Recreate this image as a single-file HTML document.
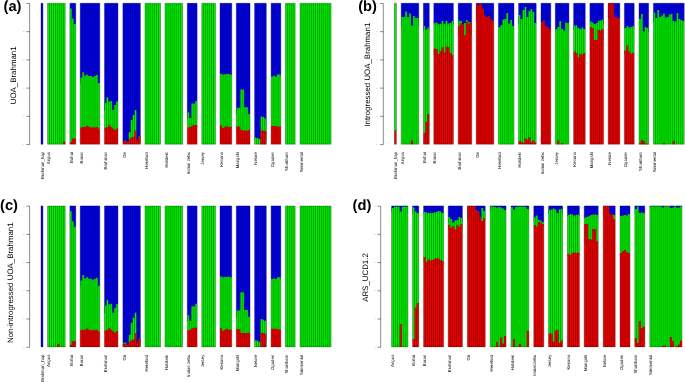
<!DOCTYPE html>
<html><head><meta charset="utf-8"><title>Admixture</title>
<style>
html,body{margin:0;padding:0;background:#fff;}
svg{display:block;font-family:"Liberation Sans",sans-serif;text-rendering:geometricPrecision;}
</style></head>
<body>
<svg width="685" height="382" viewBox="0 0 685 382">
<rect width="685" height="382" fill="#fff"/>
<path d="M26.30 3.45H29.60V144.55H26.30" fill="none" stroke="#000" stroke-opacity=".5" stroke-width=".9"/>
<path d="M26.30 31.67H29.60" stroke="#000" stroke-opacity=".5" stroke-width=".9"/>
<path d="M26.30 59.89H29.60" stroke="#000" stroke-opacity=".5" stroke-width=".9"/>
<path d="M26.30 88.11H29.60" stroke="#000" stroke-opacity=".5" stroke-width=".9"/>
<path d="M26.30 116.33H29.60" stroke="#000" stroke-opacity=".5" stroke-width=".9"/>
<text x="24.30" y="3.85" font-size="1" text-anchor="end" fill="#444">1.0</text>
<text x="24.30" y="32.07" font-size="1" text-anchor="end" fill="#444">0.8</text>
<text x="24.30" y="60.29" font-size="1" text-anchor="end" fill="#444">0.6</text>
<text x="24.30" y="88.51" font-size="1" text-anchor="end" fill="#444">0.4</text>
<text x="24.30" y="116.73" font-size="1" text-anchor="end" fill="#444">0.2</text>
<text x="24.30" y="144.95" font-size="1" text-anchor="end" fill="#444">0.0</text>
<text x="3.5" y="10.6" font-size="14.7" font-weight="bold" fill="#000">(a)</text>
<text transform="translate(15.9 75.3) rotate(-90)" font-size="7.9" text-anchor="middle" fill="#000">UOA_Brahman1</text>
<rect x="41.00" y="3.20" width="1.96" height="141.10" fill="#0000f4"/>
<path d="M41.00 3.20V144.30M42.96 3.20V144.30" stroke="#000" stroke-opacity="0.55" stroke-width="0.62" fill="none"/>
<path d="M41.00 3.20H42.96M41.00 144.20H42.96" stroke="#000" stroke-opacity=".45" stroke-width=".5" fill="none"/>
<text transform="translate(43.65 152.00) rotate(-90) scale(.1)" font-size="43" text-anchor="end" fill="#000">Brahman_hap</text>
<path d="M47.60 144.30V3.20H49.55V3.20H51.51V3.20H53.47V3.20H55.42V3.20H57.38V3.20H59.33V3.20H61.29V3.20H63.24V3.20H65.19V144.30Z" fill="#00f400"/>
<path d="M47.60 144.30V144.30H49.55V144.30H51.51V144.30H53.47V144.30H55.42V144.30H57.38V144.30H59.33V144.30H61.29V144.30H63.24V141.40H65.19V144.30Z" fill="#f40000"/>
<path d="M47.60 3.20V144.30M49.55 3.20V144.30M51.51 3.20V144.30M53.47 3.20V144.30M55.42 3.20V144.30M57.38 3.20V144.30M59.33 3.20V144.30M61.29 3.20V144.30M63.24 3.20V144.30M65.19 3.20V144.30" stroke="#000" stroke-opacity="0.55" stroke-width="0.62" fill="none"/>
<path d="M47.60 3.20H65.19M47.60 144.20H65.19" stroke="#000" stroke-opacity=".45" stroke-width=".5" fill="none"/>
<text transform="translate(50.25 152.00) rotate(-90) scale(.1)" font-size="43" text-anchor="end" fill="#000">Angus</text>
<rect x="69.90" y="3.20" width="5.88" height="21.40" fill="#0000f4"/>
<path d="M69.90 142.60V8.60H71.86V18.60H73.82V24.00H75.78V142.60Z" fill="#00f400"/>
<path d="M69.90 144.30V142.00H71.86V138.40H73.82V138.40H75.78V144.30Z" fill="#f40000"/>
<path d="M69.90 3.20V144.30M71.86 3.20V144.30M73.82 3.20V144.30M75.78 3.20V144.30" stroke="#000" stroke-opacity="0.55" stroke-width="0.62" fill="none"/>
<path d="M69.90 3.20H75.78M69.90 144.20H75.78" stroke="#000" stroke-opacity=".45" stroke-width=".5" fill="none"/>
<text transform="translate(72.55 152.00) rotate(-90) scale(.1)" font-size="43" text-anchor="end" fill="#000">Bohai</text>
<rect x="80.20" y="3.20" width="19.60" height="80.40" fill="#0000f4"/>
<path d="M80.20 129.10V77.80H82.16V72.20H84.12V75.50H86.08V74.50H88.04V76.00H90.00V76.00H91.96V77.00H93.92V76.00H95.88V75.00H97.84V83.00H99.80V129.10Z" fill="#00f400"/>
<path d="M80.20 144.30V127.50H82.16V127.00H84.12V127.00H86.08V125.80H88.04V126.80H90.00V127.50H91.96V127.20H93.92V127.50H95.88V127.00H97.84V128.50H99.80V144.30Z" fill="#f40000"/>
<path d="M80.20 3.20V144.30M82.16 3.20V144.30M84.12 3.20V144.30M86.08 3.20V144.30M88.04 3.20V144.30M90.00 3.20V144.30M91.96 3.20V144.30M93.92 3.20V144.30M95.88 3.20V144.30M97.84 3.20V144.30M99.80 3.20V144.30" stroke="#000" stroke-opacity="0.55" stroke-width="0.62" fill="none"/>
<path d="M80.20 3.20H99.80M80.20 144.20H99.80" stroke="#000" stroke-opacity=".45" stroke-width=".5" fill="none"/>
<text transform="translate(82.85 152.00) rotate(-90) scale(.1)" font-size="43" text-anchor="end" fill="#000">Boran</text>
<rect x="104.50" y="3.20" width="13.47" height="107.40" fill="#0000f4"/>
<path d="M104.50 130.60V103.00H106.42V97.20H108.35V101.50H110.28V101.00H112.20V110.00H114.12V105.00H116.05V101.20H117.97V130.60Z" fill="#00f400"/>
<path d="M104.50 144.30V127.80H106.42V127.00H108.35V125.20H110.28V127.00H112.20V128.50H114.12V130.00H116.05V128.50H117.97V144.30Z" fill="#f40000"/>
<path d="M104.50 3.20V144.30M106.42 3.20V144.30M108.35 3.20V144.30M110.28 3.20V144.30M112.20 3.20V144.30M114.12 3.20V144.30M116.05 3.20V144.30M117.97 3.20V144.30" stroke="#000" stroke-opacity="0.55" stroke-width="0.62" fill="none"/>
<path d="M104.50 3.20H117.97M104.50 144.20H117.97" stroke="#000" stroke-opacity=".45" stroke-width=".5" fill="none"/>
<text transform="translate(107.15 152.00) rotate(-90) scale(.1)" font-size="43" text-anchor="end" fill="#000">Brahman</text>
<rect x="122.90" y="3.20" width="17.50" height="139.90" fill="#0000f4"/>
<path d="M122.90 143.10V141.00H124.84V140.80H126.79V142.50H128.74V132.00H130.68V120.00H132.62V115.00H134.57V110.00H136.52V140.00H138.46V136.00H140.41V143.10Z" fill="#00f400"/>
<path d="M122.90 144.30V141.00H124.84V140.80H126.79V142.50H128.74V139.00H130.68V137.50H132.62V136.80H134.57V130.50H136.52V140.00H138.46V136.00H140.41V144.30Z" fill="#f40000"/>
<path d="M122.90 3.20V144.30M124.84 3.20V144.30M126.79 3.20V144.30M128.74 3.20V144.30M130.68 3.20V144.30M132.62 3.20V144.30M134.57 3.20V144.30M136.52 3.20V144.30M138.46 3.20V144.30M140.41 3.20V144.30" stroke="#000" stroke-opacity="0.55" stroke-width="0.62" fill="none"/>
<path d="M122.90 3.20H140.41M122.90 144.20H140.41" stroke="#000" stroke-opacity=".45" stroke-width=".5" fill="none"/>
<text transform="translate(125.55 152.00) rotate(-90) scale(.1)" font-size="43" text-anchor="end" fill="#000">Gir</text>
<path d="M145.00 144.30V3.20H146.94V3.20H148.88V3.20H150.82V3.20H152.76V3.20H154.70V3.20H156.64V3.20H158.58V3.20H160.52V144.30Z" fill="#00f400"/>
<path d="M145.00 3.20V144.30M146.94 3.20V144.30M148.88 3.20V144.30M150.82 3.20V144.30M152.76 3.20V144.30M154.70 3.20V144.30M156.64 3.20V144.30M158.58 3.20V144.30M160.52 3.20V144.30" stroke="#000" stroke-opacity="0.55" stroke-width="0.62" fill="none"/>
<path d="M145.00 3.20H160.52M145.00 144.20H160.52" stroke="#000" stroke-opacity=".45" stroke-width=".5" fill="none"/>
<text transform="translate(147.65 152.00) rotate(-90) scale(.1)" font-size="43" text-anchor="end" fill="#000">Hereford</text>
<path d="M165.00 144.30V3.20H166.96V3.20H168.91V3.20H170.87V3.20H172.82V3.20H174.78V3.20H176.73V3.20H178.69V3.20H180.64V3.20H182.59V144.30Z" fill="#00f400"/>
<path d="M165.00 3.20V144.30M166.96 3.20V144.30M168.91 3.20V144.30M170.87 3.20V144.30M172.82 3.20V144.30M174.78 3.20V144.30M176.73 3.20V144.30M178.69 3.20V144.30M180.64 3.20V144.30M182.59 3.20V144.30" stroke="#000" stroke-opacity="0.55" stroke-width="0.62" fill="none"/>
<path d="M165.00 3.20H182.59M165.00 144.20H182.59" stroke="#000" stroke-opacity=".45" stroke-width=".5" fill="none"/>
<text transform="translate(167.65 152.00) rotate(-90) scale(.1)" font-size="43" text-anchor="end" fill="#000">Holstein</text>
<rect x="187.30" y="3.20" width="9.80" height="115.40" fill="#0000f4"/>
<path d="M187.30 128.20V112.50H189.26V118.00H191.22V103.50H193.18V103.50H195.14V101.00H197.10V128.20Z" fill="#00f400"/>
<path d="M187.30 144.30V127.60H189.26V127.00H191.22V125.60H193.18V125.00H195.14V125.00H197.10V144.30Z" fill="#f40000"/>
<path d="M187.30 3.20V144.30M189.26 3.20V144.30M191.22 3.20V144.30M193.18 3.20V144.30M195.14 3.20V144.30M197.10 3.20V144.30" stroke="#000" stroke-opacity="0.55" stroke-width="0.62" fill="none"/>
<path d="M187.30 3.20H197.10M187.30 144.20H197.10" stroke="#000" stroke-opacity=".45" stroke-width=".5" fill="none"/>
<text transform="translate(189.95 152.00) rotate(-90) scale(.1)" font-size="43" text-anchor="end" fill="#000">Indian zebu</text>
<path d="M201.80 144.30V3.20H203.75V3.20H205.70V3.20H207.65V3.20H209.60V3.20H211.55V3.20H213.50V3.20H215.45V144.30Z" fill="#00f400"/>
<path d="M201.80 3.20V144.30M203.75 3.20V144.30M205.70 3.20V144.30M207.65 3.20V144.30M209.60 3.20V144.30M211.55 3.20V144.30M213.50 3.20V144.30M215.45 3.20V144.30" stroke="#000" stroke-opacity="0.55" stroke-width="0.62" fill="none"/>
<path d="M201.80 3.20H215.45M201.80 144.20H215.45" stroke="#000" stroke-opacity=".45" stroke-width=".5" fill="none"/>
<text transform="translate(204.45 152.00) rotate(-90) scale(.1)" font-size="43" text-anchor="end" fill="#000">Jersey</text>
<rect x="220.00" y="3.20" width="11.76" height="72.00" fill="#0000f4"/>
<path d="M220.00 128.60V73.70H221.96V74.60H223.92V74.20H225.88V74.00H227.84V74.00H229.80V74.60H231.76V128.60Z" fill="#00f400"/>
<path d="M220.00 144.30V125.60H221.96V128.00H223.92V127.00H225.88V126.00H227.84V127.00H229.80V127.00H231.76V144.30Z" fill="#f40000"/>
<path d="M220.00 3.20V144.30M221.96 3.20V144.30M223.92 3.20V144.30M225.88 3.20V144.30M227.84 3.20V144.30M229.80 3.20V144.30M231.76 3.20V144.30" stroke="#000" stroke-opacity="0.55" stroke-width="0.62" fill="none"/>
<path d="M220.00 3.20H231.76M220.00 144.20H231.76" stroke="#000" stroke-opacity=".45" stroke-width=".5" fill="none"/>
<text transform="translate(222.65 152.00) rotate(-90) scale(.1)" font-size="43" text-anchor="end" fill="#000">Kenana</text>
<rect x="236.30" y="3.20" width="13.72" height="111.40" fill="#0000f4"/>
<path d="M236.30 131.00V107.70H238.26V107.70H240.22V89.50H242.18V89.50H244.14V107.30H246.10V107.30H248.06V114.00H250.02V131.00Z" fill="#00f400"/>
<path d="M236.30 144.30V126.40H238.26V126.40H240.22V130.00H242.18V130.40H244.14V130.40H246.10V130.40H248.06V130.00H250.02V144.30Z" fill="#f40000"/>
<path d="M236.30 3.20V144.30M238.26 3.20V144.30M240.22 3.20V144.30M242.18 3.20V144.30M244.14 3.20V144.30M246.10 3.20V144.30M248.06 3.20V144.30M250.02 3.20V144.30" stroke="#000" stroke-opacity="0.55" stroke-width="0.62" fill="none"/>
<path d="M236.30 3.20H250.02M236.30 144.20H250.02" stroke="#000" stroke-opacity=".45" stroke-width=".5" fill="none"/>
<text transform="translate(238.95 152.00) rotate(-90) scale(.1)" font-size="43" text-anchor="end" fill="#000">Mangshi</text>
<rect x="254.60" y="3.20" width="11.70" height="136.40" fill="#0000f4"/>
<path d="M254.60 144.30V137.60H256.55V138.00H258.50V139.00H260.45V116.40H262.40V117.00H264.35V118.40H266.30V144.30Z" fill="#00f400"/>
<path d="M254.60 144.30V144.30H256.55V144.30H258.50V144.30H260.45V130.40H262.40V130.40H264.35V131.00H266.30V144.30Z" fill="#f40000"/>
<path d="M254.60 3.20V144.30M256.55 3.20V144.30M258.50 3.20V144.30M260.45 3.20V144.30M262.40 3.20V144.30M264.35 3.20V144.30M266.30 3.20V144.30" stroke="#000" stroke-opacity="0.55" stroke-width="0.62" fill="none"/>
<path d="M254.60 3.20H266.30M254.60 144.20H266.30" stroke="#000" stroke-opacity=".45" stroke-width=".5" fill="none"/>
<text transform="translate(257.25 152.00) rotate(-90) scale(.1)" font-size="43" text-anchor="end" fill="#000">Nelore</text>
<rect x="271.10" y="3.20" width="9.75" height="73.80" fill="#0000f4"/>
<path d="M271.10 127.10V76.40H273.05V75.70H275.00V76.40H276.95V74.60H278.90V74.60H280.85V127.10Z" fill="#00f400"/>
<path d="M271.10 144.30V126.00H273.05V126.00H275.00V126.00H276.95V126.50H278.90V126.50H280.85V144.30Z" fill="#f40000"/>
<path d="M271.10 3.20V144.30M273.05 3.20V144.30M275.00 3.20V144.30M276.95 3.20V144.30M278.90 3.20V144.30M280.85 3.20V144.30" stroke="#000" stroke-opacity="0.55" stroke-width="0.62" fill="none"/>
<path d="M271.10 3.20H280.85M271.10 144.20H280.85" stroke="#000" stroke-opacity=".45" stroke-width=".5" fill="none"/>
<text transform="translate(273.75 152.00) rotate(-90) scale(.1)" font-size="43" text-anchor="end" fill="#000">Ogaden</text>
<path d="M285.40 144.30V3.20H287.35V3.20H289.30V3.20H291.25V3.20H293.20V3.20H295.15V144.30Z" fill="#00f400"/>
<path d="M285.40 3.20V144.30M287.35 3.20V144.30M289.30 3.20V144.30M291.25 3.20V144.30M293.20 3.20V144.30M295.15 3.20V144.30" stroke="#000" stroke-opacity="0.55" stroke-width="0.62" fill="none"/>
<path d="M285.40 3.20H295.15M285.40 144.20H295.15" stroke="#000" stroke-opacity=".45" stroke-width=".5" fill="none"/>
<text transform="translate(288.05 152.00) rotate(-90) scale(.1)" font-size="43" text-anchor="end" fill="#000">Shorthorn</text>
<path d="M300.00 144.30V3.20H301.94V3.20H303.88V3.20H305.82V3.20H307.76V3.20H309.70V3.20H311.64V3.20H313.58V3.20H315.52V3.20H317.46V3.20H319.40V3.20H321.34V3.20H323.28V3.20H325.22V3.20H327.16V3.20H329.10V3.20H331.04V144.30Z" fill="#00f400"/>
<path d="M300.00 3.20V144.30M301.94 3.20V144.30M303.88 3.20V144.30M305.82 3.20V144.30M307.76 3.20V144.30M309.70 3.20V144.30M311.64 3.20V144.30M313.58 3.20V144.30M315.52 3.20V144.30M317.46 3.20V144.30M319.40 3.20V144.30M321.34 3.20V144.30M323.28 3.20V144.30M325.22 3.20V144.30M327.16 3.20V144.30M329.10 3.20V144.30M331.04 3.20V144.30" stroke="#000" stroke-opacity="0.55" stroke-width="0.62" fill="none"/>
<path d="M300.00 3.20H331.04M300.00 144.20H331.04" stroke="#000" stroke-opacity=".45" stroke-width=".5" fill="none"/>
<text transform="translate(302.65 152.00) rotate(-90) scale(.1)" font-size="43" text-anchor="end" fill="#000">Simmental</text>
<path d="M380.00 3.45H383.30V144.55H380.00" fill="none" stroke="#000" stroke-opacity=".5" stroke-width=".9"/>
<path d="M380.00 31.67H383.30" stroke="#000" stroke-opacity=".5" stroke-width=".9"/>
<path d="M380.00 59.89H383.30" stroke="#000" stroke-opacity=".5" stroke-width=".9"/>
<path d="M380.00 88.11H383.30" stroke="#000" stroke-opacity=".5" stroke-width=".9"/>
<path d="M380.00 116.33H383.30" stroke="#000" stroke-opacity=".5" stroke-width=".9"/>
<text x="378.00" y="3.85" font-size="1" text-anchor="end" fill="#444">1.0</text>
<text x="378.00" y="32.07" font-size="1" text-anchor="end" fill="#444">0.8</text>
<text x="378.00" y="60.29" font-size="1" text-anchor="end" fill="#444">0.6</text>
<text x="378.00" y="88.51" font-size="1" text-anchor="end" fill="#444">0.4</text>
<text x="378.00" y="116.73" font-size="1" text-anchor="end" fill="#444">0.2</text>
<text x="378.00" y="144.95" font-size="1" text-anchor="end" fill="#444">0.0</text>
<text x="358.2" y="10.6" font-size="14.7" font-weight="bold" fill="#000">(b)</text>
<text transform="translate(370.0 74.7) rotate(-90)" font-size="7.9" text-anchor="middle" fill="#000">Introgressed UOA_Brahman1</text>
<path d="M394.40 131.00V3.20H396.36V131.00Z" fill="#00f400"/>
<path d="M394.40 144.30V130.40H396.36V144.30Z" fill="#f40000"/>
<path d="M394.40 3.20V144.30M396.36 3.20V144.30" stroke="#000" stroke-opacity="0.55" stroke-width="0.62" fill="none"/>
<path d="M394.40 3.20H396.36M394.40 144.20H396.36" stroke="#000" stroke-opacity=".45" stroke-width=".5" fill="none"/>
<text transform="translate(397.05 152.00) rotate(-90) scale(.1)" font-size="43" text-anchor="end" fill="#000">Brahman_hap</text>
<rect x="401.20" y="3.20" width="17.59" height="23.00" fill="#0000f4"/>
<path d="M401.20 144.30V17.00H403.15V17.00H405.11V11.60H407.06V17.00H409.02V13.60H410.97V25.60H412.93V16.00H414.88V18.00H416.84V18.00H418.79V144.30Z" fill="#00f400"/>
<path d="M401.20 144.30V144.30H403.15V144.30H405.11V144.30H407.06V144.30H409.02V144.30H410.97V140.40H412.93V144.30H414.88V144.30H416.84V144.30H418.79V144.30Z" fill="#f40000"/>
<path d="M401.20 3.20V144.30M403.15 3.20V144.30M405.11 3.20V144.30M407.06 3.20V144.30M409.02 3.20V144.30M410.97 3.20V144.30M412.93 3.20V144.30M414.88 3.20V144.30M416.84 3.20V144.30M418.79 3.20V144.30" stroke="#000" stroke-opacity="0.55" stroke-width="0.62" fill="none"/>
<path d="M401.20 3.20H418.79M401.20 144.20H418.79" stroke="#000" stroke-opacity=".45" stroke-width=".5" fill="none"/>
<text transform="translate(403.85 152.00) rotate(-90) scale(.1)" font-size="43" text-anchor="end" fill="#000">Angus</text>
<rect x="423.40" y="3.20" width="5.88" height="27.00" fill="#0000f4"/>
<path d="M423.40 133.60V26.00H425.36V29.60H427.32V27.60H429.28V133.60Z" fill="#00f400"/>
<path d="M423.40 144.30V133.00H425.36V122.00H427.32V114.00H429.28V144.30Z" fill="#f40000"/>
<path d="M423.40 3.20V144.30M425.36 3.20V144.30M427.32 3.20V144.30M429.28 3.20V144.30" stroke="#000" stroke-opacity="0.55" stroke-width="0.62" fill="none"/>
<path d="M423.40 3.20H429.28M423.40 144.20H429.28" stroke="#000" stroke-opacity=".45" stroke-width=".5" fill="none"/>
<text transform="translate(426.05 152.00) rotate(-90) scale(.1)" font-size="43" text-anchor="end" fill="#000">Bohai</text>
<rect x="433.80" y="3.20" width="19.60" height="21.60" fill="#0000f4"/>
<path d="M433.80 55.60V23.00H435.76V22.40H437.72V24.20H439.68V23.70H441.64V21.00H443.60V23.80H445.56V20.70H447.52V23.40H449.48V23.00H451.44V21.00H453.40V55.60Z" fill="#00f400"/>
<path d="M433.80 144.30V48.60H435.76V49.00H437.72V54.00H439.68V51.00H441.64V47.60H443.60V52.40H445.56V46.40H447.52V47.00H449.48V53.00H451.44V55.00H453.40V144.30Z" fill="#f40000"/>
<path d="M433.80 3.20V144.30M435.76 3.20V144.30M437.72 3.20V144.30M439.68 3.20V144.30M441.64 3.20V144.30M443.60 3.20V144.30M445.56 3.20V144.30M447.52 3.20V144.30M449.48 3.20V144.30M451.44 3.20V144.30M453.40 3.20V144.30" stroke="#000" stroke-opacity="0.55" stroke-width="0.62" fill="none"/>
<path d="M433.80 3.20H453.40M433.80 144.20H453.40" stroke="#000" stroke-opacity=".45" stroke-width=".5" fill="none"/>
<text transform="translate(436.45 152.00) rotate(-90) scale(.1)" font-size="43" text-anchor="end" fill="#000">Boran</text>
<rect x="458.20" y="3.20" width="13.51" height="21.90" fill="#0000f4"/>
<path d="M458.20 35.90V20.40H460.13V20.90H462.06V24.50H463.99V23.10H465.92V19.90H467.85V21.90H469.78V22.20H471.71V35.90Z" fill="#00f400"/>
<path d="M458.20 144.30V25.70H460.13V23.20H462.06V24.50H463.99V35.30H465.92V21.70H467.85V23.40H469.78V22.20H471.71V144.30Z" fill="#f40000"/>
<path d="M458.20 3.20V144.30M460.13 3.20V144.30M462.06 3.20V144.30M463.99 3.20V144.30M465.92 3.20V144.30M467.85 3.20V144.30M469.78 3.20V144.30M471.71 3.20V144.30" stroke="#000" stroke-opacity="0.55" stroke-width="0.62" fill="none"/>
<path d="M458.20 3.20H471.71M458.20 144.20H471.71" stroke="#000" stroke-opacity=".45" stroke-width=".5" fill="none"/>
<text transform="translate(460.85 152.00) rotate(-90) scale(.1)" font-size="43" text-anchor="end" fill="#000">Brahman</text>
<rect x="476.20" y="3.20" width="17.59" height="18.00" fill="#0000f4"/>
<path d="M476.20 144.30V5.00H478.15V4.40H480.11V3.60H482.06V8.40H484.02V15.60H485.97V17.00H487.93V16.00H489.88V19.00H491.84V20.60H493.79V144.30Z" fill="#f40000"/>
<path d="M476.20 3.20V144.30M478.15 3.20V144.30M480.11 3.20V144.30M482.06 3.20V144.30M484.02 3.20V144.30M485.97 3.20V144.30M487.93 3.20V144.30M489.88 3.20V144.30M491.84 3.20V144.30M493.79 3.20V144.30" stroke="#000" stroke-opacity="0.55" stroke-width="0.62" fill="none"/>
<path d="M476.20 3.20H493.79M476.20 144.20H493.79" stroke="#000" stroke-opacity=".45" stroke-width=".5" fill="none"/>
<text transform="translate(478.85 152.00) rotate(-90) scale(.1)" font-size="43" text-anchor="end" fill="#000">Gir</text>
<rect x="498.40" y="3.20" width="15.60" height="24.40" fill="#0000f4"/>
<path d="M498.40 144.30V27.00H500.35V25.00H502.30V19.60H504.25V19.00H506.20V13.00H508.15V23.60H510.10V20.00H512.05V26.00H514.00V144.30Z" fill="#00f400"/>
<path d="M498.40 3.20V144.30M500.35 3.20V144.30M502.30 3.20V144.30M504.25 3.20V144.30M506.20 3.20V144.30M508.15 3.20V144.30M510.10 3.20V144.30M512.05 3.20V144.30M514.00 3.20V144.30" stroke="#000" stroke-opacity="0.55" stroke-width="0.62" fill="none"/>
<path d="M498.40 3.20H514.00M498.40 144.20H514.00" stroke="#000" stroke-opacity=".45" stroke-width=".5" fill="none"/>
<text transform="translate(501.05 152.00) rotate(-90) scale(.1)" font-size="43" text-anchor="end" fill="#000">Hereford</text>
<rect x="518.60" y="3.20" width="17.59" height="20.40" fill="#0000f4"/>
<path d="M518.60 143.60V15.00H520.56V19.00H522.51V10.00H524.47V7.00H526.42V17.00H528.38V11.00H530.33V9.00H532.28V12.00H534.24V23.00H536.20V143.60Z" fill="#00f400"/>
<path d="M518.60 144.30V141.00H520.56V142.00H522.51V143.00H524.47V138.40H526.42V139.60H528.38V137.00H530.33V142.00H532.28V140.40H534.24V142.40H536.20V144.30Z" fill="#f40000"/>
<path d="M518.60 3.20V144.30M520.56 3.20V144.30M522.51 3.20V144.30M524.47 3.20V144.30M526.42 3.20V144.30M528.38 3.20V144.30M530.33 3.20V144.30M532.28 3.20V144.30M534.24 3.20V144.30M536.20 3.20V144.30" stroke="#000" stroke-opacity="0.55" stroke-width="0.62" fill="none"/>
<path d="M518.60 3.20H536.20M518.60 144.20H536.20" stroke="#000" stroke-opacity=".45" stroke-width=".5" fill="none"/>
<text transform="translate(521.25 152.00) rotate(-90) scale(.1)" font-size="43" text-anchor="end" fill="#000">Holstein</text>
<rect x="541.00" y="3.20" width="9.80" height="26.40" fill="#0000f4"/>
<path d="M541.00 144.30V22.00H542.96V20.00H544.92V26.00H546.88V27.00H548.84V29.00H550.80V144.30Z" fill="#f40000"/>
<path d="M541.00 3.20V144.30M542.96 3.20V144.30M544.92 3.20V144.30M546.88 3.20V144.30M548.84 3.20V144.30M550.80 3.20V144.30" stroke="#000" stroke-opacity="0.55" stroke-width="0.62" fill="none"/>
<path d="M541.00 3.20H550.80M541.00 144.20H550.80" stroke="#000" stroke-opacity=".45" stroke-width=".5" fill="none"/>
<text transform="translate(543.65 152.00) rotate(-90) scale(.1)" font-size="43" text-anchor="end" fill="#000">Indian zebu</text>
<rect x="555.30" y="3.20" width="13.65" height="27.80" fill="#0000f4"/>
<path d="M555.30 144.30V29.00H557.25V27.00H559.20V21.00H561.15V29.00H563.10V30.40H565.05V22.40H567.00V23.00H568.95V144.30Z" fill="#00f400"/>
<path d="M555.30 144.30V144.30H557.25V140.60H559.20V144.30H561.15V143.20H563.10V144.30H565.05V144.30H567.00V144.30H568.95V144.30Z" fill="#f40000"/>
<path d="M555.30 3.20V144.30M557.25 3.20V144.30M559.20 3.20V144.30M561.15 3.20V144.30M563.10 3.20V144.30M565.05 3.20V144.30M567.00 3.20V144.30M568.95 3.20V144.30" stroke="#000" stroke-opacity="0.55" stroke-width="0.62" fill="none"/>
<path d="M555.30 3.20H568.95M555.30 144.20H568.95" stroke="#000" stroke-opacity=".45" stroke-width=".5" fill="none"/>
<text transform="translate(557.95 152.00) rotate(-90) scale(.1)" font-size="43" text-anchor="end" fill="#000">Jersey</text>
<rect x="573.60" y="3.20" width="11.64" height="26.40" fill="#0000f4"/>
<path d="M573.60 58.20V25.60H575.54V25.60H577.48V28.00H579.42V29.00H581.36V27.60H583.30V29.00H585.24V58.20Z" fill="#00f400"/>
<path d="M573.60 144.30V51.60H575.54V53.00H577.48V57.60H579.42V54.00H581.36V54.40H583.30V53.00H585.24V144.30Z" fill="#f40000"/>
<path d="M573.60 3.20V144.30M575.54 3.20V144.30M577.48 3.20V144.30M579.42 3.20V144.30M581.36 3.20V144.30M583.30 3.20V144.30M585.24 3.20V144.30" stroke="#000" stroke-opacity="0.55" stroke-width="0.62" fill="none"/>
<path d="M573.60 3.20H585.24M573.60 144.20H585.24" stroke="#000" stroke-opacity=".45" stroke-width=".5" fill="none"/>
<text transform="translate(576.25 152.00) rotate(-90) scale(.1)" font-size="43" text-anchor="end" fill="#000">Kenana</text>
<rect x="589.90" y="3.20" width="13.65" height="21.40" fill="#0000f4"/>
<path d="M589.90 40.60V21.60H591.85V22.40H593.80V24.00H595.75V23.00H597.70V21.00H599.65V20.40H601.60V19.60H603.55V40.60Z" fill="#00f400"/>
<path d="M589.90 144.30V27.00H591.85V28.00H593.80V40.00H595.75V40.00H597.70V30.00H599.65V30.40H601.60V29.00H603.55V144.30Z" fill="#f40000"/>
<path d="M589.90 3.20V144.30M591.85 3.20V144.30M593.80 3.20V144.30M595.75 3.20V144.30M597.70 3.20V144.30M599.65 3.20V144.30M601.60 3.20V144.30M603.55 3.20V144.30" stroke="#000" stroke-opacity="0.55" stroke-width="0.62" fill="none"/>
<path d="M589.90 3.20H603.55M589.90 144.20H603.55" stroke="#000" stroke-opacity=".45" stroke-width=".5" fill="none"/>
<text transform="translate(592.55 152.00) rotate(-90) scale(.1)" font-size="43" text-anchor="end" fill="#000">Mangshi</text>
<rect x="608.20" y="3.20" width="11.64" height="15.40" fill="#0000f4"/>
<path d="M608.20 144.30V3.20H610.14V3.20H612.08V3.20H614.02V17.00H615.96V17.60H617.90V18.00H619.84V144.30Z" fill="#f40000"/>
<path d="M608.20 3.20V144.30M610.14 3.20V144.30M612.08 3.20V144.30M614.02 3.20V144.30M615.96 3.20V144.30M617.90 3.20V144.30M619.84 3.20V144.30" stroke="#000" stroke-opacity="0.55" stroke-width="0.62" fill="none"/>
<path d="M608.20 3.20H619.84M608.20 144.20H619.84" stroke="#000" stroke-opacity=".45" stroke-width=".5" fill="none"/>
<text transform="translate(610.85 152.00) rotate(-90) scale(.1)" font-size="43" text-anchor="end" fill="#000">Nelore</text>
<rect x="624.40" y="3.20" width="9.80" height="25.40" fill="#0000f4"/>
<path d="M624.40 54.20V28.00H626.36V26.00H628.32V27.60H630.28V27.00H632.24V26.00H634.20V54.20Z" fill="#00f400"/>
<path d="M624.40 144.30V50.40H626.36V45.60H628.32V51.60H630.28V53.60H632.24V53.00H634.20V144.30Z" fill="#f40000"/>
<path d="M624.40 3.20V144.30M626.36 3.20V144.30M628.32 3.20V144.30M630.28 3.20V144.30M632.24 3.20V144.30M634.20 3.20V144.30" stroke="#000" stroke-opacity="0.55" stroke-width="0.62" fill="none"/>
<path d="M624.40 3.20H634.20M624.40 144.20H634.20" stroke="#000" stroke-opacity=".45" stroke-width=".5" fill="none"/>
<text transform="translate(627.05 152.00) rotate(-90) scale(.1)" font-size="43" text-anchor="end" fill="#000">Ogaden</text>
<rect x="639.00" y="3.20" width="9.65" height="29.00" fill="#0000f4"/>
<path d="M639.00 144.30V19.00H640.93V14.00H642.86V31.60H644.79V27.00H646.72V28.00H648.65V144.30Z" fill="#00f400"/>
<path d="M639.00 144.30V143.20H640.93V140.00H642.86V141.00H644.79V143.60H646.72V143.80H648.65V144.30Z" fill="#f40000"/>
<path d="M639.00 3.20V144.30M640.93 3.20V144.30M642.86 3.20V144.30M644.79 3.20V144.30M646.72 3.20V144.30M648.65 3.20V144.30" stroke="#000" stroke-opacity="0.55" stroke-width="0.62" fill="none"/>
<path d="M639.00 3.20H648.65M639.00 144.20H648.65" stroke="#000" stroke-opacity=".45" stroke-width=".5" fill="none"/>
<text transform="translate(641.65 152.00) rotate(-90) scale(.1)" font-size="43" text-anchor="end" fill="#000">Shorthorn</text>
<rect x="653.40" y="3.20" width="30.80" height="19.00" fill="#0000f4"/>
<path d="M653.40 144.30V12.40H655.32V18.00H657.25V10.00H659.17V17.00H661.10V15.60H663.02V13.60H664.95V17.60H666.88V17.00H668.80V14.40H670.73V14.00H672.65V21.00H674.57V21.60H676.50V13.00H678.42V19.00H680.35V20.00H682.27V21.00H684.20V144.30Z" fill="#00f400"/>
<path d="M653.40 144.30V144.30H655.32V144.30H657.25V144.30H659.17V144.30H661.10V144.30H663.02V143.20H664.95V144.30H666.88V144.30H668.80V144.30H670.73V144.30H672.65V141.00H674.57V144.30H676.50V144.30H678.42V144.30H680.35V144.30H682.27V144.30H684.20V144.30Z" fill="#f40000"/>
<path d="M653.40 3.20V144.30M655.32 3.20V144.30M657.25 3.20V144.30M659.17 3.20V144.30M661.10 3.20V144.30M663.02 3.20V144.30M664.95 3.20V144.30M666.88 3.20V144.30M668.80 3.20V144.30M670.73 3.20V144.30M672.65 3.20V144.30M674.57 3.20V144.30M676.50 3.20V144.30M678.42 3.20V144.30M680.35 3.20V144.30M682.27 3.20V144.30M684.20 3.20V144.30" stroke="#000" stroke-opacity="0.55" stroke-width="0.62" fill="none"/>
<path d="M653.40 3.20H684.20M653.40 144.20H684.20" stroke="#000" stroke-opacity=".45" stroke-width=".5" fill="none"/>
<text transform="translate(656.05 152.00) rotate(-90) scale(.1)" font-size="43" text-anchor="end" fill="#000">Simmental</text>
<path d="M26.30 206.15H29.60V347.25H26.30" fill="none" stroke="#000" stroke-opacity=".5" stroke-width=".9"/>
<path d="M26.30 234.37H29.60" stroke="#000" stroke-opacity=".5" stroke-width=".9"/>
<path d="M26.30 262.59H29.60" stroke="#000" stroke-opacity=".5" stroke-width=".9"/>
<path d="M26.30 290.81H29.60" stroke="#000" stroke-opacity=".5" stroke-width=".9"/>
<path d="M26.30 319.03H29.60" stroke="#000" stroke-opacity=".5" stroke-width=".9"/>
<text x="24.30" y="206.55" font-size="1" text-anchor="end" fill="#444">1.0</text>
<text x="24.30" y="234.77" font-size="1" text-anchor="end" fill="#444">0.8</text>
<text x="24.30" y="262.99" font-size="1" text-anchor="end" fill="#444">0.6</text>
<text x="24.30" y="291.21" font-size="1" text-anchor="end" fill="#444">0.4</text>
<text x="24.30" y="319.43" font-size="1" text-anchor="end" fill="#444">0.2</text>
<text x="24.30" y="347.65" font-size="1" text-anchor="end" fill="#444">0.0</text>
<text x="0.0" y="210.0" font-size="14.7" font-weight="bold" fill="#000">(c)</text>
<text transform="translate(12.9 282.7) rotate(-90)" font-size="7.9" text-anchor="middle" fill="#000">Non-introgressed UOA_Brahman1</text>
<rect x="41.00" y="205.90" width="1.96" height="141.10" fill="#0000f4"/>
<path d="M41.00 205.90V347.00M42.96 205.90V347.00" stroke="#000" stroke-opacity="0.55" stroke-width="0.62" fill="none"/>
<path d="M41.00 205.90H42.96M41.00 346.90H42.96" stroke="#000" stroke-opacity=".45" stroke-width=".5" fill="none"/>
<text transform="translate(43.65 354.70) rotate(-90) scale(.1)" font-size="43" text-anchor="end" fill="#000">Brahman_hap</text>
<path d="M47.60 347.00V205.90H49.55V205.90H51.51V205.90H53.47V205.90H55.42V205.90H57.38V205.90H59.33V205.90H61.29V205.90H63.24V205.90H65.19V347.00Z" fill="#00f400"/>
<path d="M47.60 347.00V347.00H49.55V347.00H51.51V347.00H53.47V347.00H55.42V347.00H57.38V344.10H59.33V347.00H61.29V347.00H63.24V347.00H65.19V347.00Z" fill="#f40000"/>
<path d="M47.60 205.90V347.00M49.55 205.90V347.00M51.51 205.90V347.00M53.47 205.90V347.00M55.42 205.90V347.00M57.38 205.90V347.00M59.33 205.90V347.00M61.29 205.90V347.00M63.24 205.90V347.00M65.19 205.90V347.00" stroke="#000" stroke-opacity="0.55" stroke-width="0.62" fill="none"/>
<path d="M47.60 205.90H65.19M47.60 346.90H65.19" stroke="#000" stroke-opacity=".45" stroke-width=".5" fill="none"/>
<text transform="translate(50.25 354.70) rotate(-90) scale(.1)" font-size="43" text-anchor="end" fill="#000">Angus</text>
<rect x="69.90" y="205.90" width="5.88" height="21.40" fill="#0000f4"/>
<path d="M69.90 345.30V211.30H71.86V221.30H73.82V226.70H75.78V345.30Z" fill="#00f400"/>
<path d="M69.90 347.00V344.70H71.86V341.10H73.82V341.10H75.78V347.00Z" fill="#f40000"/>
<path d="M69.90 205.90V347.00M71.86 205.90V347.00M73.82 205.90V347.00M75.78 205.90V347.00" stroke="#000" stroke-opacity="0.55" stroke-width="0.62" fill="none"/>
<path d="M69.90 205.90H75.78M69.90 346.90H75.78" stroke="#000" stroke-opacity=".45" stroke-width=".5" fill="none"/>
<text transform="translate(72.55 354.70) rotate(-90) scale(.1)" font-size="43" text-anchor="end" fill="#000">Bohai</text>
<rect x="80.20" y="205.90" width="19.60" height="80.40" fill="#0000f4"/>
<path d="M80.20 331.80V280.50H82.16V274.90H84.12V278.20H86.08V277.20H88.04V278.70H90.00V278.70H91.96V279.70H93.92V278.70H95.88V277.70H97.84V285.70H99.80V331.80Z" fill="#00f400"/>
<path d="M80.20 347.00V330.20H82.16V329.70H84.12V329.70H86.08V328.50H88.04V329.50H90.00V330.20H91.96V329.90H93.92V330.20H95.88V329.70H97.84V331.20H99.80V347.00Z" fill="#f40000"/>
<path d="M80.20 205.90V347.00M82.16 205.90V347.00M84.12 205.90V347.00M86.08 205.90V347.00M88.04 205.90V347.00M90.00 205.90V347.00M91.96 205.90V347.00M93.92 205.90V347.00M95.88 205.90V347.00M97.84 205.90V347.00M99.80 205.90V347.00" stroke="#000" stroke-opacity="0.55" stroke-width="0.62" fill="none"/>
<path d="M80.20 205.90H99.80M80.20 346.90H99.80" stroke="#000" stroke-opacity=".45" stroke-width=".5" fill="none"/>
<text transform="translate(82.85 354.70) rotate(-90) scale(.1)" font-size="43" text-anchor="end" fill="#000">Boran</text>
<rect x="104.50" y="205.90" width="13.47" height="107.40" fill="#0000f4"/>
<path d="M104.50 333.30V305.70H106.42V299.90H108.35V304.20H110.28V303.70H112.20V312.70H114.12V307.70H116.05V303.90H117.97V333.30Z" fill="#00f400"/>
<path d="M104.50 347.00V330.50H106.42V329.70H108.35V327.90H110.28V329.70H112.20V331.20H114.12V332.70H116.05V331.20H117.97V347.00Z" fill="#f40000"/>
<path d="M104.50 205.90V347.00M106.42 205.90V347.00M108.35 205.90V347.00M110.28 205.90V347.00M112.20 205.90V347.00M114.12 205.90V347.00M116.05 205.90V347.00M117.97 205.90V347.00" stroke="#000" stroke-opacity="0.55" stroke-width="0.62" fill="none"/>
<path d="M104.50 205.90H117.97M104.50 346.90H117.97" stroke="#000" stroke-opacity=".45" stroke-width=".5" fill="none"/>
<text transform="translate(107.15 354.70) rotate(-90) scale(.1)" font-size="43" text-anchor="end" fill="#000">Brahman</text>
<rect x="122.90" y="205.90" width="17.50" height="139.90" fill="#0000f4"/>
<path d="M122.90 345.80V342.70H124.84V342.50H126.79V345.20H128.74V334.70H130.68V322.70H132.62V317.70H134.57V312.70H136.52V342.70H138.46V338.70H140.41V345.80Z" fill="#00f400"/>
<path d="M122.90 347.00V343.70H124.84V343.50H126.79V345.20H128.74V341.70H130.68V340.20H132.62V339.50H134.57V333.20H136.52V342.70H138.46V338.70H140.41V347.00Z" fill="#f40000"/>
<path d="M122.90 205.90V347.00M124.84 205.90V347.00M126.79 205.90V347.00M128.74 205.90V347.00M130.68 205.90V347.00M132.62 205.90V347.00M134.57 205.90V347.00M136.52 205.90V347.00M138.46 205.90V347.00M140.41 205.90V347.00" stroke="#000" stroke-opacity="0.55" stroke-width="0.62" fill="none"/>
<path d="M122.90 205.90H140.41M122.90 346.90H140.41" stroke="#000" stroke-opacity=".45" stroke-width=".5" fill="none"/>
<text transform="translate(125.55 354.70) rotate(-90) scale(.1)" font-size="43" text-anchor="end" fill="#000">Gir</text>
<path d="M145.00 347.00V205.90H146.94V205.90H148.88V205.90H150.82V205.90H152.76V205.90H154.70V205.90H156.64V205.90H158.58V205.90H160.52V347.00Z" fill="#00f400"/>
<path d="M145.00 205.90V347.00M146.94 205.90V347.00M148.88 205.90V347.00M150.82 205.90V347.00M152.76 205.90V347.00M154.70 205.90V347.00M156.64 205.90V347.00M158.58 205.90V347.00M160.52 205.90V347.00" stroke="#000" stroke-opacity="0.55" stroke-width="0.62" fill="none"/>
<path d="M145.00 205.90H160.52M145.00 346.90H160.52" stroke="#000" stroke-opacity=".45" stroke-width=".5" fill="none"/>
<text transform="translate(147.65 354.70) rotate(-90) scale(.1)" font-size="43" text-anchor="end" fill="#000">Hereford</text>
<path d="M165.00 347.00V205.90H166.96V205.90H168.91V205.90H170.87V205.90H172.82V205.90H174.78V205.90H176.73V205.90H178.69V205.90H180.64V205.90H182.59V347.00Z" fill="#00f400"/>
<path d="M165.00 205.90V347.00M166.96 205.90V347.00M168.91 205.90V347.00M170.87 205.90V347.00M172.82 205.90V347.00M174.78 205.90V347.00M176.73 205.90V347.00M178.69 205.90V347.00M180.64 205.90V347.00M182.59 205.90V347.00" stroke="#000" stroke-opacity="0.55" stroke-width="0.62" fill="none"/>
<path d="M165.00 205.90H182.59M165.00 346.90H182.59" stroke="#000" stroke-opacity=".45" stroke-width=".5" fill="none"/>
<text transform="translate(167.65 354.70) rotate(-90) scale(.1)" font-size="43" text-anchor="end" fill="#000">Holstein</text>
<rect x="187.30" y="205.90" width="9.80" height="115.40" fill="#0000f4"/>
<path d="M187.30 330.90V315.20H189.26V320.70H191.22V306.20H193.18V306.20H195.14V303.70H197.10V330.90Z" fill="#00f400"/>
<path d="M187.30 347.00V330.30H189.26V329.70H191.22V328.30H193.18V327.70H195.14V327.70H197.10V347.00Z" fill="#f40000"/>
<path d="M187.30 205.90V347.00M189.26 205.90V347.00M191.22 205.90V347.00M193.18 205.90V347.00M195.14 205.90V347.00M197.10 205.90V347.00" stroke="#000" stroke-opacity="0.55" stroke-width="0.62" fill="none"/>
<path d="M187.30 205.90H197.10M187.30 346.90H197.10" stroke="#000" stroke-opacity=".45" stroke-width=".5" fill="none"/>
<text transform="translate(189.95 354.70) rotate(-90) scale(.1)" font-size="43" text-anchor="end" fill="#000">Indian zebu</text>
<path d="M201.80 347.00V205.90H203.75V205.90H205.70V205.90H207.65V205.90H209.60V205.90H211.55V205.90H213.50V205.90H215.45V347.00Z" fill="#00f400"/>
<path d="M201.80 205.90V347.00M203.75 205.90V347.00M205.70 205.90V347.00M207.65 205.90V347.00M209.60 205.90V347.00M211.55 205.90V347.00M213.50 205.90V347.00M215.45 205.90V347.00" stroke="#000" stroke-opacity="0.55" stroke-width="0.62" fill="none"/>
<path d="M201.80 205.90H215.45M201.80 346.90H215.45" stroke="#000" stroke-opacity=".45" stroke-width=".5" fill="none"/>
<text transform="translate(204.45 354.70) rotate(-90) scale(.1)" font-size="43" text-anchor="end" fill="#000">Jersey</text>
<rect x="220.00" y="205.90" width="11.76" height="72.00" fill="#0000f4"/>
<path d="M220.00 331.30V276.40H221.96V277.30H223.92V276.90H225.88V276.70H227.84V276.70H229.80V277.30H231.76V331.30Z" fill="#00f400"/>
<path d="M220.00 347.00V328.30H221.96V330.70H223.92V329.70H225.88V328.70H227.84V329.70H229.80V329.70H231.76V347.00Z" fill="#f40000"/>
<path d="M220.00 205.90V347.00M221.96 205.90V347.00M223.92 205.90V347.00M225.88 205.90V347.00M227.84 205.90V347.00M229.80 205.90V347.00M231.76 205.90V347.00" stroke="#000" stroke-opacity="0.55" stroke-width="0.62" fill="none"/>
<path d="M220.00 205.90H231.76M220.00 346.90H231.76" stroke="#000" stroke-opacity=".45" stroke-width=".5" fill="none"/>
<text transform="translate(222.65 354.70) rotate(-90) scale(.1)" font-size="43" text-anchor="end" fill="#000">Kenana</text>
<rect x="236.30" y="205.90" width="13.72" height="111.40" fill="#0000f4"/>
<path d="M236.30 333.70V310.40H238.26V310.40H240.22V292.20H242.18V292.20H244.14V310.00H246.10V310.00H248.06V316.70H250.02V333.70Z" fill="#00f400"/>
<path d="M236.30 347.00V329.10H238.26V329.10H240.22V332.70H242.18V333.10H244.14V333.10H246.10V333.10H248.06V332.70H250.02V347.00Z" fill="#f40000"/>
<path d="M236.30 205.90V347.00M238.26 205.90V347.00M240.22 205.90V347.00M242.18 205.90V347.00M244.14 205.90V347.00M246.10 205.90V347.00M248.06 205.90V347.00M250.02 205.90V347.00" stroke="#000" stroke-opacity="0.55" stroke-width="0.62" fill="none"/>
<path d="M236.30 205.90H250.02M236.30 346.90H250.02" stroke="#000" stroke-opacity=".45" stroke-width=".5" fill="none"/>
<text transform="translate(238.95 354.70) rotate(-90) scale(.1)" font-size="43" text-anchor="end" fill="#000">Mangshi</text>
<rect x="254.60" y="205.90" width="11.70" height="136.40" fill="#0000f4"/>
<path d="M254.60 347.00V340.30H256.55V340.70H258.50V341.70H260.45V319.10H262.40V319.70H264.35V321.10H266.30V347.00Z" fill="#00f400"/>
<path d="M254.60 347.00V347.00H256.55V347.00H258.50V347.00H260.45V333.10H262.40V333.10H264.35V333.70H266.30V347.00Z" fill="#f40000"/>
<path d="M254.60 205.90V347.00M256.55 205.90V347.00M258.50 205.90V347.00M260.45 205.90V347.00M262.40 205.90V347.00M264.35 205.90V347.00M266.30 205.90V347.00" stroke="#000" stroke-opacity="0.55" stroke-width="0.62" fill="none"/>
<path d="M254.60 205.90H266.30M254.60 346.90H266.30" stroke="#000" stroke-opacity=".45" stroke-width=".5" fill="none"/>
<text transform="translate(257.25 354.70) rotate(-90) scale(.1)" font-size="43" text-anchor="end" fill="#000">Nelore</text>
<rect x="271.10" y="205.90" width="9.75" height="73.80" fill="#0000f4"/>
<path d="M271.10 329.80V279.10H273.05V278.40H275.00V279.10H276.95V277.30H278.90V277.30H280.85V329.80Z" fill="#00f400"/>
<path d="M271.10 347.00V328.70H273.05V328.70H275.00V328.70H276.95V329.20H278.90V329.20H280.85V347.00Z" fill="#f40000"/>
<path d="M271.10 205.90V347.00M273.05 205.90V347.00M275.00 205.90V347.00M276.95 205.90V347.00M278.90 205.90V347.00M280.85 205.90V347.00" stroke="#000" stroke-opacity="0.55" stroke-width="0.62" fill="none"/>
<path d="M271.10 205.90H280.85M271.10 346.90H280.85" stroke="#000" stroke-opacity=".45" stroke-width=".5" fill="none"/>
<text transform="translate(273.75 354.70) rotate(-90) scale(.1)" font-size="43" text-anchor="end" fill="#000">Ogaden</text>
<path d="M285.40 347.00V205.90H287.35V205.90H289.30V205.90H291.25V205.90H293.20V205.90H295.15V347.00Z" fill="#00f400"/>
<path d="M285.40 205.90V347.00M287.35 205.90V347.00M289.30 205.90V347.00M291.25 205.90V347.00M293.20 205.90V347.00M295.15 205.90V347.00" stroke="#000" stroke-opacity="0.55" stroke-width="0.62" fill="none"/>
<path d="M285.40 205.90H295.15M285.40 346.90H295.15" stroke="#000" stroke-opacity=".45" stroke-width=".5" fill="none"/>
<text transform="translate(288.05 354.70) rotate(-90) scale(.1)" font-size="43" text-anchor="end" fill="#000">Shorthorn</text>
<path d="M300.00 347.00V205.90H301.94V205.90H303.88V205.90H305.82V205.90H307.76V205.90H309.70V205.90H311.64V205.90H313.58V205.90H315.52V205.90H317.46V205.90H319.40V205.90H321.34V205.90H323.28V205.90H325.22V205.90H327.16V205.90H329.10V205.90H331.04V347.00Z" fill="#00f400"/>
<path d="M300.00 205.90V347.00M301.94 205.90V347.00M303.88 205.90V347.00M305.82 205.90V347.00M307.76 205.90V347.00M309.70 205.90V347.00M311.64 205.90V347.00M313.58 205.90V347.00M315.52 205.90V347.00M317.46 205.90V347.00M319.40 205.90V347.00M321.34 205.90V347.00M323.28 205.90V347.00M325.22 205.90V347.00M327.16 205.90V347.00M329.10 205.90V347.00M331.04 205.90V347.00" stroke="#000" stroke-opacity="0.55" stroke-width="0.62" fill="none"/>
<path d="M300.00 205.90H331.04M300.00 346.90H331.04" stroke="#000" stroke-opacity=".45" stroke-width=".5" fill="none"/>
<text transform="translate(302.65 354.70) rotate(-90) scale(.1)" font-size="43" text-anchor="end" fill="#000">Simmental</text>
<path d="M377.40 206.15H380.70V347.25H377.40" fill="none" stroke="#000" stroke-opacity=".5" stroke-width=".9"/>
<path d="M377.40 234.37H380.70" stroke="#000" stroke-opacity=".5" stroke-width=".9"/>
<path d="M377.40 262.59H380.70" stroke="#000" stroke-opacity=".5" stroke-width=".9"/>
<path d="M377.40 290.81H380.70" stroke="#000" stroke-opacity=".5" stroke-width=".9"/>
<path d="M377.40 319.03H380.70" stroke="#000" stroke-opacity=".5" stroke-width=".9"/>
<text x="375.40" y="206.55" font-size="1" text-anchor="end" fill="#444">1.0</text>
<text x="375.40" y="234.77" font-size="1" text-anchor="end" fill="#444">0.8</text>
<text x="375.40" y="262.99" font-size="1" text-anchor="end" fill="#444">0.6</text>
<text x="375.40" y="291.21" font-size="1" text-anchor="end" fill="#444">0.4</text>
<text x="375.40" y="319.43" font-size="1" text-anchor="end" fill="#444">0.2</text>
<text x="375.40" y="347.65" font-size="1" text-anchor="end" fill="#444">0.0</text>
<text x="352.6" y="210.0" font-size="14.7" font-weight="bold" fill="#000">(d)</text>
<text transform="translate(367.7 277.5) rotate(-90)" font-size="7.9" text-anchor="middle" fill="#000">ARS_UCD1.2</text>
<rect x="391.60" y="205.90" width="16.32" height="6.30" fill="#0000f4"/>
<path d="M391.60 347.00V208.00H393.64V206.60H395.68V206.40H397.72V206.40H399.76V211.60H401.80V206.60H403.84V206.40H405.88V206.60H407.92V347.00Z" fill="#00f400"/>
<path d="M391.60 347.00V346.90H393.64V346.90H395.68V346.90H397.72V346.90H399.76V324.00H401.80V346.90H403.84V346.90H405.88V346.90H407.92V347.00Z" fill="#f40000"/>
<path d="M391.60 205.90V347.00M393.64 205.90V347.00M395.68 205.90V347.00M397.72 205.90V347.00M399.76 205.90V347.00M401.80 205.90V347.00M403.84 205.90V347.00M405.88 205.90V347.00M407.92 205.90V347.00" stroke="#000" stroke-opacity="0.55" stroke-width="0.62" fill="none"/>
<path d="M391.60 205.90H407.92M391.60 346.90H407.92" stroke="#000" stroke-opacity=".45" stroke-width=".5" fill="none"/>
<text transform="translate(394.25 354.70) rotate(-90) scale(.1)" font-size="43" text-anchor="end" fill="#000">Angus</text>
<rect x="412.60" y="205.90" width="6.15" height="7.70" fill="#0000f4"/>
<path d="M412.60 339.60V207.60H414.65V211.60H416.70V213.00H418.75V339.60Z" fill="#00f400"/>
<path d="M412.60 347.00V339.00H414.65V307.60H416.70V303.00H418.75V347.00Z" fill="#f40000"/>
<path d="M412.60 205.90V347.00M414.65 205.90V347.00M416.70 205.90V347.00M418.75 205.90V347.00" stroke="#000" stroke-opacity="0.55" stroke-width="0.62" fill="none"/>
<path d="M412.60 205.90H418.75M412.60 346.90H418.75" stroke="#000" stroke-opacity=".45" stroke-width=".5" fill="none"/>
<text transform="translate(415.25 354.70) rotate(-90) scale(.1)" font-size="43" text-anchor="end" fill="#000">Bohai</text>
<rect x="423.60" y="205.90" width="20.00" height="7.70" fill="#0000f4"/>
<path d="M423.60 262.60V212.00H425.60V212.40H427.60V213.00H429.60V213.00H431.60V213.00H433.60V212.40H435.60V212.00H437.60V211.00H439.60V211.60H441.60V213.00H443.60V262.60Z" fill="#00f400"/>
<path d="M423.60 347.00V257.00H425.60V262.00H427.60V259.60H429.60V260.40H431.60V260.00H433.60V259.00H435.60V258.00H437.60V258.60H439.60V260.00H441.60V261.00H443.60V347.00Z" fill="#f40000"/>
<path d="M423.60 205.90V347.00M425.60 205.90V347.00M427.60 205.90V347.00M429.60 205.90V347.00M431.60 205.90V347.00M433.60 205.90V347.00M435.60 205.90V347.00M437.60 205.90V347.00M439.60 205.90V347.00M441.60 205.90V347.00M443.60 205.90V347.00" stroke="#000" stroke-opacity="0.55" stroke-width="0.62" fill="none"/>
<path d="M423.60 205.90H443.60M423.60 346.90H443.60" stroke="#000" stroke-opacity=".45" stroke-width=".5" fill="none"/>
<text transform="translate(426.25 354.70) rotate(-90) scale(.1)" font-size="43" text-anchor="end" fill="#000">Boran</text>
<rect x="448.20" y="205.90" width="14.21" height="17.10" fill="#0000f4"/>
<path d="M448.20 230.20V216.90H450.23V218.90H452.26V222.40H454.29V220.40H456.32V219.90H458.35V216.90H460.38V217.90H462.41V230.20Z" fill="#00f400"/>
<path d="M448.20 347.00V224.80H450.23V227.80H452.26V226.20H454.29V229.60H456.32V225.00H458.35V226.80H460.38V223.90H462.41V347.00Z" fill="#f40000"/>
<path d="M448.20 205.90V347.00M450.23 205.90V347.00M452.26 205.90V347.00M454.29 205.90V347.00M456.32 205.90V347.00M458.35 205.90V347.00M460.38 205.90V347.00M462.41 205.90V347.00" stroke="#000" stroke-opacity="0.55" stroke-width="0.62" fill="none"/>
<path d="M448.20 205.90H462.41M448.20 346.90H462.41" stroke="#000" stroke-opacity=".45" stroke-width=".5" fill="none"/>
<text transform="translate(450.85 354.70) rotate(-90) scale(.1)" font-size="43" text-anchor="end" fill="#000">Brahman</text>
<rect x="467.40" y="205.90" width="17.82" height="12.30" fill="#0000f4"/>
<path d="M467.40 221.60V206.00H469.38V206.00H471.36V206.00H473.34V206.00H475.32V210.40H477.30V211.60H479.28V217.60H481.26V208.00H483.24V211.00H485.22V221.60Z" fill="#00f400"/>
<path d="M467.40 347.00V206.00H469.38V206.00H471.36V206.00H473.34V206.00H475.32V210.40H477.30V211.60H479.28V217.60H481.26V221.00H483.24V218.00H485.22V347.00Z" fill="#f40000"/>
<path d="M467.40 205.90V347.00M469.38 205.90V347.00M471.36 205.90V347.00M473.34 205.90V347.00M475.32 205.90V347.00M477.30 205.90V347.00M479.28 205.90V347.00M481.26 205.90V347.00M483.24 205.90V347.00M485.22 205.90V347.00" stroke="#000" stroke-opacity="0.55" stroke-width="0.62" fill="none"/>
<path d="M467.40 205.90H485.22M467.40 346.90H485.22" stroke="#000" stroke-opacity=".45" stroke-width=".5" fill="none"/>
<text transform="translate(470.05 354.70) rotate(-90) scale(.1)" font-size="43" text-anchor="end" fill="#000">Gir</text>
<rect x="490.20" y="205.90" width="15.84" height="4.70" fill="#0000f4"/>
<path d="M490.20 347.00V206.40H492.18V206.60H494.16V207.00H496.14V207.60H498.12V207.00H500.10V207.60H502.08V208.40H504.06V210.00H506.04V347.00Z" fill="#00f400"/>
<path d="M490.20 347.00V346.90H492.18V346.90H494.16V346.90H496.14V342.00H498.12V346.90H500.10V337.60H502.08V343.60H504.06V336.00H506.04V347.00Z" fill="#f40000"/>
<path d="M490.20 205.90V347.00M492.18 205.90V347.00M494.16 205.90V347.00M496.14 205.90V347.00M498.12 205.90V347.00M500.10 205.90V347.00M502.08 205.90V347.00M504.06 205.90V347.00M506.04 205.90V347.00" stroke="#000" stroke-opacity="0.55" stroke-width="0.62" fill="none"/>
<path d="M490.20 205.90H506.04M490.20 346.90H506.04" stroke="#000" stroke-opacity=".45" stroke-width=".5" fill="none"/>
<text transform="translate(492.85 354.70) rotate(-90) scale(.1)" font-size="43" text-anchor="end" fill="#000">Hereford</text>
<rect x="511.00" y="205.90" width="17.82" height="4.30" fill="#0000f4"/>
<path d="M511.00 347.00V207.00H512.98V209.60H514.96V207.00H516.94V206.60H518.92V206.60H520.90V206.60H522.88V206.60H524.86V207.00H526.84V209.00H528.82V347.00Z" fill="#00f400"/>
<path d="M511.00 347.00V346.90H512.98V339.00H514.96V346.90H516.94V346.90H518.92V344.00H520.90V346.90H522.88V346.90H524.86V346.90H526.84V331.00H528.82V347.00Z" fill="#f40000"/>
<path d="M511.00 205.90V347.00M512.98 205.90V347.00M514.96 205.90V347.00M516.94 205.90V347.00M518.92 205.90V347.00M520.90 205.90V347.00M522.88 205.90V347.00M524.86 205.90V347.00M526.84 205.90V347.00M528.82 205.90V347.00" stroke="#000" stroke-opacity="0.55" stroke-width="0.62" fill="none"/>
<path d="M511.00 205.90H528.82M511.00 346.90H528.82" stroke="#000" stroke-opacity=".45" stroke-width=".5" fill="none"/>
<text transform="translate(513.65 354.70) rotate(-90) scale(.1)" font-size="43" text-anchor="end" fill="#000">Holstein</text>
<rect x="533.80" y="205.90" width="10.00" height="16.70" fill="#0000f4"/>
<path d="M533.80 227.00V217.60H535.80V215.60H537.80V220.00H539.80V220.40H541.80V222.00H543.80V227.00Z" fill="#00f400"/>
<path d="M533.80 347.00V225.00H535.80V226.40H537.80V222.00H539.80V222.40H541.80V224.00H543.80V347.00Z" fill="#f40000"/>
<path d="M533.80 205.90V347.00M535.80 205.90V347.00M537.80 205.90V347.00M539.80 205.90V347.00M541.80 205.90V347.00M543.80 205.90V347.00" stroke="#000" stroke-opacity="0.55" stroke-width="0.62" fill="none"/>
<path d="M533.80 205.90H543.80M533.80 346.90H543.80" stroke="#000" stroke-opacity=".45" stroke-width=".5" fill="none"/>
<text transform="translate(536.45 354.70) rotate(-90) scale(.1)" font-size="43" text-anchor="end" fill="#000">Indianzebu</text>
<rect x="548.60" y="205.90" width="14.00" height="7.70" fill="#0000f4"/>
<path d="M548.60 343.60V210.00H550.60V209.60H552.60V208.40H554.60V209.60H556.60V213.00H558.60V209.60H560.60V209.00H562.60V343.60Z" fill="#00f400"/>
<path d="M548.60 347.00V333.60H550.60V333.60H552.60V341.60H554.60V330.60H556.60V330.00H558.60V343.00H560.60V340.40H562.60V347.00Z" fill="#f40000"/>
<path d="M548.60 205.90V347.00M550.60 205.90V347.00M552.60 205.90V347.00M554.60 205.90V347.00M556.60 205.90V347.00M558.60 205.90V347.00M560.60 205.90V347.00M562.60 205.90V347.00" stroke="#000" stroke-opacity="0.55" stroke-width="0.62" fill="none"/>
<path d="M548.60 205.90H562.60M548.60 346.90H562.60" stroke="#000" stroke-opacity=".45" stroke-width=".5" fill="none"/>
<text transform="translate(551.25 354.70) rotate(-90) scale(.1)" font-size="43" text-anchor="end" fill="#000">Jersey</text>
<rect x="567.40" y="205.90" width="12.00" height="10.10" fill="#0000f4"/>
<path d="M567.40 255.60V215.00H569.40V214.00H571.40V214.40H573.40V215.40H575.40V215.00H577.40V214.40H579.40V255.60Z" fill="#00f400"/>
<path d="M567.40 347.00V253.60H569.40V255.00H571.40V253.00H573.40V252.60H575.40V253.00H577.40V252.60H579.40V347.00Z" fill="#f40000"/>
<path d="M567.40 205.90V347.00M569.40 205.90V347.00M571.40 205.90V347.00M573.40 205.90V347.00M575.40 205.90V347.00M577.40 205.90V347.00M579.40 205.90V347.00" stroke="#000" stroke-opacity="0.55" stroke-width="0.62" fill="none"/>
<path d="M567.40 205.90H579.40M567.40 346.90H579.40" stroke="#000" stroke-opacity=".45" stroke-width=".5" fill="none"/>
<text transform="translate(570.05 354.70) rotate(-90) scale(.1)" font-size="43" text-anchor="end" fill="#000">Kenana</text>
<rect x="584.20" y="205.90" width="14.00" height="12.30" fill="#0000f4"/>
<path d="M584.20 242.20V217.60H586.20V217.00H588.20V216.00H590.20V215.00H592.20V214.40H594.20V214.40H596.20V215.00H598.20V242.20Z" fill="#00f400"/>
<path d="M584.20 347.00V224.00H586.20V224.00H588.20V239.00H590.20V239.60H592.20V229.00H594.20V229.00H596.20V241.60H598.20V347.00Z" fill="#f40000"/>
<path d="M584.20 205.90V347.00M586.20 205.90V347.00M588.20 205.90V347.00M590.20 205.90V347.00M592.20 205.90V347.00M594.20 205.90V347.00M596.20 205.90V347.00M598.20 205.90V347.00" stroke="#000" stroke-opacity="0.55" stroke-width="0.62" fill="none"/>
<path d="M584.20 205.90H598.20M584.20 346.90H598.20" stroke="#000" stroke-opacity=".45" stroke-width=".5" fill="none"/>
<text transform="translate(586.85 354.70) rotate(-90) scale(.1)" font-size="43" text-anchor="end" fill="#000">Mangshi</text>
<rect x="603.20" y="205.90" width="12.00" height="9.70" fill="#0000f4"/>
<path d="M603.20 219.60V206.00H605.20V206.00H607.20V206.00H609.20V214.00H611.20V214.00H613.20V215.00H615.20V219.60Z" fill="#00f400"/>
<path d="M603.20 347.00V206.00H605.20V206.00H607.20V206.00H609.20V214.00H611.20V214.00H613.20V219.00H615.20V347.00Z" fill="#f40000"/>
<path d="M603.20 205.90V347.00M605.20 205.90V347.00M607.20 205.90V347.00M609.20 205.90V347.00M611.20 205.90V347.00M613.20 205.90V347.00M615.20 205.90V347.00" stroke="#000" stroke-opacity="0.55" stroke-width="0.62" fill="none"/>
<path d="M603.20 205.90H615.20M603.20 346.90H615.20" stroke="#000" stroke-opacity=".45" stroke-width=".5" fill="none"/>
<text transform="translate(605.85 354.70) rotate(-90) scale(.1)" font-size="43" text-anchor="end" fill="#000">Nelore</text>
<rect x="620.00" y="205.90" width="10.00" height="10.70" fill="#0000f4"/>
<path d="M620.00 253.60V216.00H622.00V215.60H624.00V215.00H626.00V215.60H628.00V214.00H630.00V253.60Z" fill="#00f400"/>
<path d="M620.00 347.00V253.00H622.00V251.00H624.00V250.00H626.00V252.00H628.00V253.00H630.00V347.00Z" fill="#f40000"/>
<path d="M620.00 205.90V347.00M622.00 205.90V347.00M624.00 205.90V347.00M626.00 205.90V347.00M628.00 205.90V347.00M630.00 205.90V347.00" stroke="#000" stroke-opacity="0.55" stroke-width="0.62" fill="none"/>
<path d="M620.00 205.90H630.00M620.00 346.90H630.00" stroke="#000" stroke-opacity=".45" stroke-width=".5" fill="none"/>
<text transform="translate(622.65 354.70) rotate(-90) scale(.1)" font-size="43" text-anchor="end" fill="#000">Ogaden</text>
<rect x="634.80" y="205.90" width="10.00" height="7.70" fill="#0000f4"/>
<path d="M634.80 343.60V209.00H636.80V206.40H638.80V213.00H640.80V212.40H642.80V213.00H644.80V343.60Z" fill="#00f400"/>
<path d="M634.80 347.00V338.00H636.80V343.00H638.80V321.00H640.80V328.00H642.80V326.40H644.80V347.00Z" fill="#f40000"/>
<path d="M634.80 205.90V347.00M636.80 205.90V347.00M638.80 205.90V347.00M640.80 205.90V347.00M642.80 205.90V347.00M644.80 205.90V347.00" stroke="#000" stroke-opacity="0.55" stroke-width="0.62" fill="none"/>
<path d="M634.80 205.90H644.80M634.80 346.90H644.80" stroke="#000" stroke-opacity=".45" stroke-width=".5" fill="none"/>
<text transform="translate(637.45 354.70) rotate(-90) scale(.1)" font-size="43" text-anchor="end" fill="#000">Shorthorn</text>
<rect x="649.80" y="205.90" width="32.16" height="2.70" fill="#0000f4"/>
<path d="M649.80 347.00V206.30H651.81V206.30H653.82V206.30H655.83V206.30H657.84V206.30H659.85V206.30H661.86V207.60H663.87V206.30H665.88V206.30H667.89V206.30H669.90V208.00H671.91V207.60H673.92V206.30H675.93V207.40H677.94V207.60H679.95V206.30H681.96V347.00Z" fill="#00f400"/>
<path d="M649.80 347.00V346.90H651.81V346.90H653.82V346.90H655.83V346.90H657.84V346.90H659.85V346.90H661.86V346.00H663.87V345.60H665.88V346.90H667.89V346.90H669.90V337.00H671.91V341.00H673.92V346.90H675.93V346.00H677.94V344.40H679.95V340.40H681.96V347.00Z" fill="#f40000"/>
<path d="M649.80 205.90V347.00M651.81 205.90V347.00M653.82 205.90V347.00M655.83 205.90V347.00M657.84 205.90V347.00M659.85 205.90V347.00M661.86 205.90V347.00M663.87 205.90V347.00M665.88 205.90V347.00M667.89 205.90V347.00M669.90 205.90V347.00M671.91 205.90V347.00M673.92 205.90V347.00M675.93 205.90V347.00M677.94 205.90V347.00M679.95 205.90V347.00M681.96 205.90V347.00" stroke="#000" stroke-opacity="0.55" stroke-width="0.62" fill="none"/>
<path d="M649.80 205.90H681.96M649.80 346.90H681.96" stroke="#000" stroke-opacity=".45" stroke-width=".5" fill="none"/>
<text transform="translate(652.45 354.70) rotate(-90) scale(.1)" font-size="43" text-anchor="end" fill="#000">Simmental</text>
</svg>
</body></html>
